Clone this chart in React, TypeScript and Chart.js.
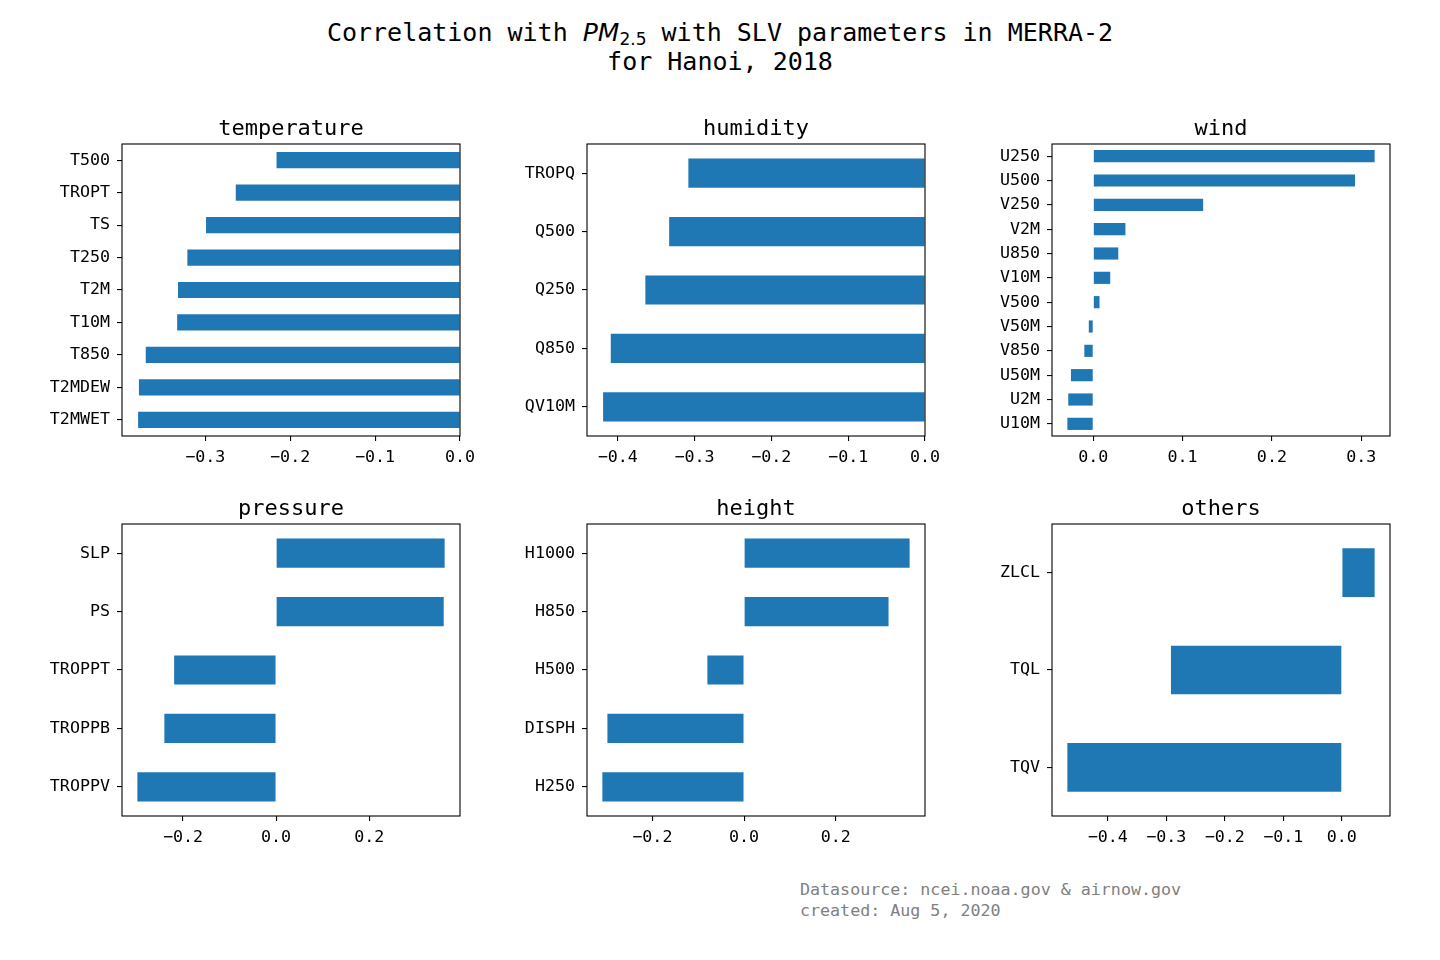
import { useEffect, useRef } from 'react';
import { Chart, registerables } from 'chart.js';

Chart.register(...registerables);

const MONO = '"DejaVu Sans Mono", monospace';
const SANS = '"DejaVu Sans", sans-serif';
const BLUE = '#1f77b4';

// categories listed top to bottom, as they appear in each panel
const temperatureLabels = ['T500', 'TROPT', 'TS', 'T250', 'T2M', 'T10M', 'T850', 'T2MDEW', 'T2MWET'];
const temperatureValues = [-0.216, -0.264, -0.299, -0.321, -0.332, -0.333, -0.37, -0.378, -0.379];

const humidityLabels = ['TROPQ', 'Q500', 'Q250', 'Q850', 'QV10M'];
const humidityValues = [-0.308, -0.333, -0.364, -0.409, -0.419];

const windLabels = ['U250', 'U500', 'V250', 'V2M', 'U850', 'V10M', 'V500', 'V50M', 'V850', 'U50M', 'U2M', 'U10M'];
const windValues = [0.315, 0.293, 0.123, 0.036, 0.028, 0.019, 0.007, -0.005, -0.01, -0.025, -0.028, -0.029];

const pressureLabels = ['SLP', 'PS', 'TROPPT', 'TROPPB', 'TROPPV'];
const pressureValues = [0.362, 0.36, -0.219, -0.24, -0.298];

const heightLabels = ['H1000', 'H850', 'H500', 'DISPH', 'H250'];
const heightValues = [0.361, 0.315, -0.08, -0.298, -0.309];

const othersLabels = ['ZLCL', 'TQL', 'TQV'];
const othersValues = [0.056, -0.292, -0.469];

// layout of the 2x3 grid (plot area of each panel)
const COLS = [122, 587, 1052];
const ROWS = [144, 524];
const PLOT_W = 338;
const PLOT_H = 292;
const Y_AXIS_W = 110;
const X_AXIS_H = 40;
const TOP_PAD = 36;
const RIGHT_PAD = 24;

const fmtTick = (v: number | string) => {
  const n = Number(v);
  if (Math.abs(n) < 1e-9) return '0.0';
  return n.toFixed(1).replace('-', '\u2212');
};

// matplotlib-like limits: 5% margin, but stick to 0 where the bars start
function limits(values: number[]) {
  const lo = Math.min(0, ...values);
  const hi = Math.max(0, ...values);
  const span = hi - lo;
  return {
    min: lo === 0 ? 0 : lo - 0.05 * span,
    max: hi === 0 ? 0 : hi + 0.05 * span,
  };
}

type PanelProps = {
  title: string;
  labels: string[];
  values: number[];
  step: number;
  col: number;
  row: number;
};

function Panel({ title, labels, values, step, col, row }: PanelProps) {
  const canvasRef = useRef<HTMLCanvasElement>(null);

  useEffect(() => {
    if (!canvasRef.current) return;
    const { min, max } = limits(values);

    const framePlugin = {
      id: 'panelFrame',
      afterDraw(chart: any) {
        const { ctx, chartArea: a } = chart;
        ctx.save();
        ctx.strokeStyle = '#000';
        ctx.lineWidth = 1.1;
        ctx.strokeRect(a.left, a.top, a.right - a.left, a.bottom - a.top);
        ctx.fillStyle = '#000';
        ctx.font = `22px ${MONO}`;
        ctx.textAlign = 'center';
        ctx.textBaseline = 'alphabetic';
        ctx.fillText(title, (a.left + a.right) / 2, a.top - 9);
        ctx.restore();
      },
    };

    const chart = new Chart(canvasRef.current, {
      type: 'bar',
      data: {
        labels,
        datasets: [
          {
            data: values,
            backgroundColor: BLUE,
            borderWidth: 0,
            barPercentage: 0.5,
            categoryPercentage: 1,
          },
        ],
      },
      options: {
        indexAxis: 'y',
        animation: false,
        responsive: true,
        maintainAspectRatio: false,
        layout: { padding: { top: TOP_PAD, right: RIGHT_PAD, left: 0, bottom: 0 } },
        plugins: {
          legend: { display: false },
          tooltip: { enabled: false },
        },
        scales: {
          x: {
            type: 'linear',
            min,
            max,
            border: { display: false },
            grid: { drawOnChartArea: false, drawTicks: true, tickLength: 5, lineWidth: 1.1, color: '#000' },
            ticks: {
              stepSize: step,
              includeBounds: false,
              color: '#000',
              padding: 7,
              maxRotation: 0,
              font: { family: MONO, size: 16.67 },
              callback: fmtTick,
            },
            afterFit: (s: any) => {
              s.height = X_AXIS_H;
              s.paddingLeft = 0;
              s.paddingRight = 0;
            },
          },
          y: {
            type: 'category',
            offset: true,
            border: { display: false },
            grid: { offset: false, drawOnChartArea: false, drawTicks: true, tickLength: 5, lineWidth: 1.1, color: '#000' },
            ticks: {
              color: '#000',
              padding: 7,
              autoSkip: false,
              font: { family: MONO, size: 16.67 },
            },
            afterFit: (s: any) => {
              s.width = Y_AXIS_W;
              s.paddingTop = 0;
              s.paddingBottom = 0;
            },
          },
        },
      } as any,
      plugins: [framePlugin],
    });

    return () => chart.destroy();
  }, []);

  return (
    <div
      style={{
        position: 'absolute',
        left: COLS[col] - Y_AXIS_W,
        top: ROWS[row] - TOP_PAD,
        width: Y_AXIS_W + PLOT_W + RIGHT_PAD,
        height: TOP_PAD + PLOT_H + X_AXIS_H,
      }}
    >
      <canvas ref={canvasRef} />
    </div>
  );
}

export default function App() {
  return (
    <div
      style={{
        position: 'absolute',
        left: 0,
        top: 0,
        width: 1440,
        height: 960,
        background: '#fff',
        overflow: 'hidden',
      }}
    >
      <div
        style={{
          position: 'absolute',
          left: 0,
          top: 18,
          width: 1440,
          textAlign: 'center',
          fontFamily: MONO,
          fontSize: 25,
          lineHeight: '29px',
          color: '#000',
        }}
      >
        <div style={{ height: 29 }}>
          Correlation with{' '}
          <span style={{ fontFamily: SANS, fontStyle: 'italic' }}>PM</span>
          <span style={{ fontFamily: SANS, fontSize: '0.68em', position: 'relative', top: '0.25em' }}>2.5</span>{' '}
          with SLV parameters in MERRA-2
        </div>
        <div>for Hanoi, 2018</div>
      </div>

      <Panel title="temperature" labels={temperatureLabels} values={temperatureValues} step={0.1} col={0} row={0} />
      <Panel title="humidity" labels={humidityLabels} values={humidityValues} step={0.1} col={1} row={0} />
      <Panel title="wind" labels={windLabels} values={windValues} step={0.1} col={2} row={0} />
      <Panel title="pressure" labels={pressureLabels} values={pressureValues} step={0.2} col={0} row={1} />
      <Panel title="height" labels={heightLabels} values={heightValues} step={0.2} col={1} row={1} />
      <Panel title="others" labels={othersLabels} values={othersValues} step={0.1} col={2} row={1} />

      <div
        style={{
          position: 'absolute',
          left: 800,
          top: 879,
          fontFamily: MONO,
          fontSize: 16.67,
          lineHeight: '21px',
          color: '#808080',
          whiteSpace: 'pre',
        }}
      >
        {'Datasource: ncei.noaa.gov & airnow.gov\ncreated: Aug 5, 2020'}
      </div>
    </div>
  );
}
